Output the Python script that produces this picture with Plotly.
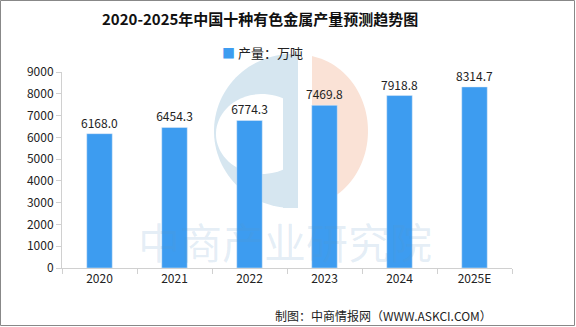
import numpy as np
import plotly.graph_objects as go

categories = ["2020", "2021", "2022", "2023", "2024", "2025E"]
values = [6168.0, 6454.3, 6774.3, 7469.8, 7918.8, 8314.7]
labels = [f"{v:.1f}" for v in values]

font = "Noto Sans CJK SC"
bar_color = "#3d9cf0"

# plot area in pixels (for decorative watermark placement)
L, R, T, B = 62, 512, 72, 268


def px(x):
    return (x - L) / (R - L)


def py(y):
    return (B - y) / (B - T)


def poly(points):
    return "M " + " L ".join(f"{px(a):.4f},{py(b):.4f}" for a, b in points) + " Z"


fig = go.Figure()
fig.add_trace(go.Bar(
    x=categories, y=values, name="产量：万吨",
    marker_color=bar_color, width=0.34,
    text=labels, textposition="outside", constraintext="none",
    textfont=dict(family=font, size=12, color="#222222"),
    cliponaxis=False, showlegend=False,
))

fig.update_layout(
    width=576, height=327,
    margin=dict(l=L, r=576 - R, t=T, b=327 - B),
    paper_bgcolor="white", plot_bgcolor="white",
    showlegend=False,
    xaxis=dict(showline=True, linecolor="#d0d0d0", ticks="outside", tickcolor="#d0d0d0",
               ticklen=5, tickson="boundaries",
               tickfont=dict(family=font, size=12, color="#222222")),
    yaxis=dict(range=[0, 9000], dtick=1000, showgrid=False, showline=True,
               linecolor="#d0d0d0", ticks="outside", tickcolor="#d0d0d0", ticklen=5,
               tickfont=dict(family=font, size=12, color="#222222"), zeroline=False),
)

# decorative logo watermark (behind bars)
cx, cy = 292, 131
th = np.linspace(np.pi / 2, 3 * np.pi / 2, 60)
outer = [(cx + 78 * np.cos(t), cy - 77 * np.sin(t)) for t in th]
fig.add_shape(type="path", xref="paper", yref="paper", path=poly(outer + [(298, 208), (298, 54)]),
              line=dict(width=0), fillcolor="#d6e6f0", layer="below")
th2 = np.linspace(0, 2 * np.pi, 80)
inner = [(262 + 46 * np.cos(t), 134 - 40 * np.sin(t)) for t in th2]
fig.add_shape(type="path", xref="paper", yref="paper", path=poly(inner),
              line=dict(width=0), fillcolor="white", layer="below")
fig.add_shape(type="rect", xref="paper", yref="paper", x0=px(283), x1=px(298), y0=py(208), y1=py(54),
              line=dict(width=0), fillcolor="#d6e6f0", layer="below")
th3 = np.linspace(-np.pi / 2, np.pi / 2, 60)
salmon = [(max(312, 300 + 68 * np.cos(t)), 131 - 76 * np.sin(t)) for t in th3]
fig.add_shape(type="path", xref="paper", yref="paper", path=poly(salmon),
              line=dict(width=0), fillcolor="#fae2d6", layer="below")

fig.add_annotation(text="中商产业研究院", xref="paper", yref="paper", x=px(285), y=py(240),
                   xanchor="center", yanchor="middle", showarrow=False,
                   font=dict(family=font, size=42, color="rgba(90,150,200,0.16)"))

# title
fig.add_annotation(text="<b>2020-2025年中国十种有色金属产量预测趋势图</b>", xref="paper", yref="paper",
                   x=px(260), y=py(18), xanchor="center", yanchor="middle", showarrow=False,
                   font=dict(family=font, size=15, color="#111111"))
# legend
fig.add_annotation(text=f"<span style='color:{bar_color}'>■</span> 产量：万吨", xref="paper", yref="paper",
                   x=px(262), y=py(52), xanchor="center", yanchor="middle", showarrow=False,
                   font=dict(family=font, size=13, color="#222222"))
# source
fig.add_annotation(text="制图：中商情报网（WWW.ASKCI.COM）", xref="paper", yref="paper",
                   x=px(494), y=py(315), xanchor="right", yanchor="middle", showarrow=False,
                   font=dict(family=font, size=12, color="#222222"))

fig.add_shape(type="rect", xref="paper", yref="paper", x0=px(0.5), x1=px(574.5), y0=py(325.5), y1=py(0.5),
              line=dict(color="#888888", width=1))

fig.write_html("out.html")
